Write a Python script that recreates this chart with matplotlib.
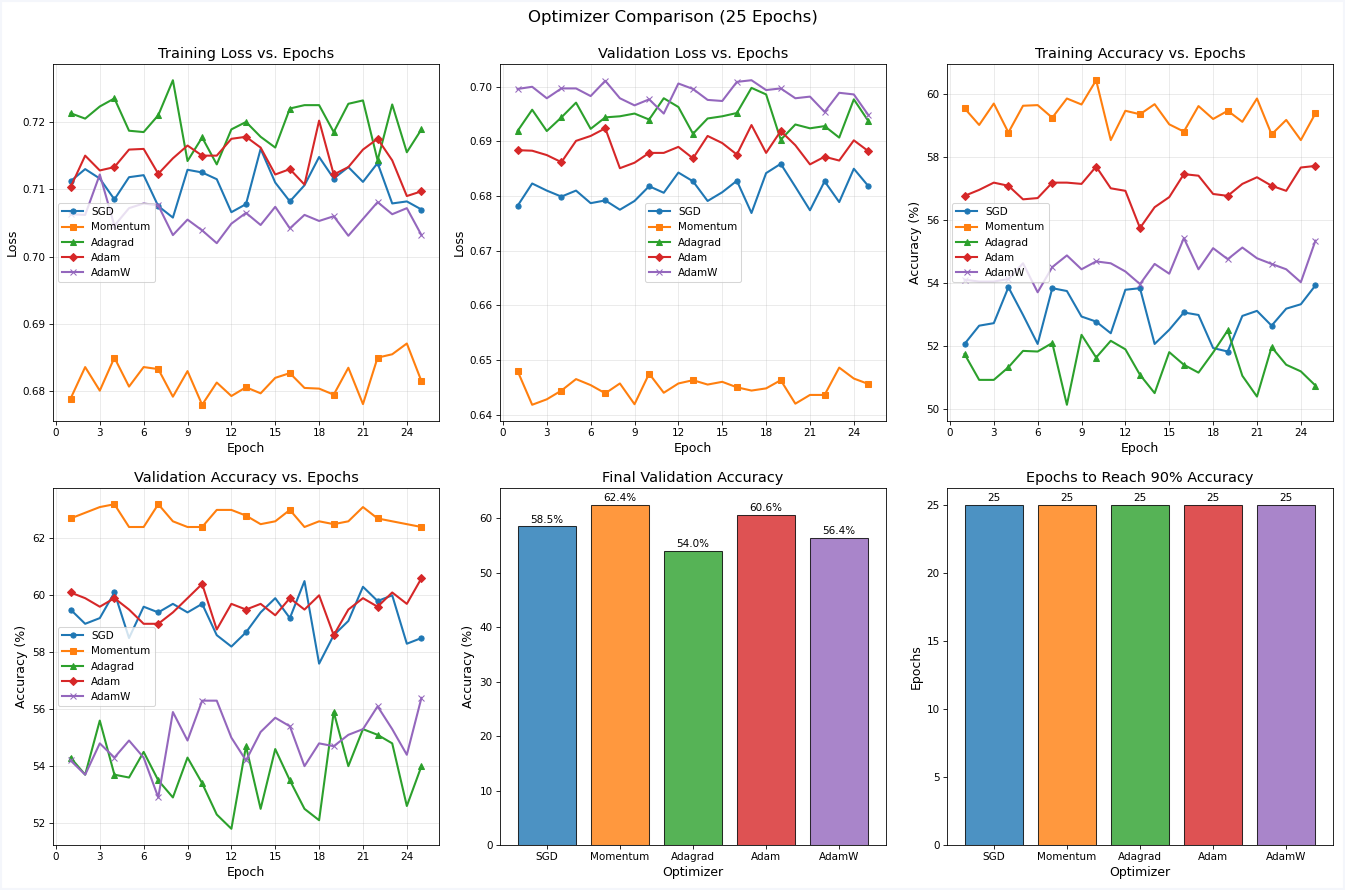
import matplotlib
matplotlib.use('Agg')
import matplotlib.pyplot as plt
from matplotlib.patches import Rectangle

# ---------------- data ----------------
epochs = list(range(1, 26))
optimizers = ['SGD', 'Momentum', 'Adagrad', 'Adam', 'AdamW']
markers = ['o', 's', '^', 'D', 'x']
colors = ['#1f77b4', '#ff7f0e', '#2ca02c', '#d62728', '#9467bd']

train_loss_sgd = [0.7112, 0.7130, 0.7116, 0.7085, 0.7118, 0.7121, 0.7075, 0.7058, 0.7129, 0.7125,
                  0.7115, 0.7066, 0.7078, 0.7160, 0.7110, 0.7082, 0.7106, 0.7148, 0.7116, 0.7133,
                  0.7111, 0.7139, 0.7079, 0.7082, 0.7070]
train_loss_momentum = [0.6789, 0.6836, 0.6801, 0.6850, 0.6807, 0.6836, 0.6833, 0.6792, 0.6830, 0.6780,
                       0.6813, 0.6793, 0.6806, 0.6797, 0.6820, 0.6827, 0.6805, 0.6804, 0.6795, 0.6835,
                       0.6781, 0.6850, 0.6855, 0.6871, 0.6815]
train_loss_adagrad = [0.7213, 0.7205, 0.7223, 0.7235, 0.7187, 0.7185, 0.7210, 0.7262, 0.7142, 0.7177,
                      0.7137, 0.7189, 0.7200, 0.7178, 0.7162, 0.7220, 0.7225, 0.7225, 0.7185, 0.7227,
                      0.7232, 0.7143, 0.7226, 0.7155, 0.7189]
train_loss_adam = [0.7103, 0.7150, 0.7128, 0.7133, 0.7159, 0.7160, 0.7123, 0.7146, 0.7165, 0.7150,
                   0.7150, 0.7175, 0.7178, 0.7162, 0.7122, 0.7130, 0.7107, 0.7202, 0.7122, 0.7133,
                   0.7159, 0.7175, 0.7143, 0.7090, 0.7097]
train_loss_adamw = [0.7063, 0.7062, 0.7122, 0.7046, 0.7072, 0.7079, 0.7076, 0.7032, 0.7055, 0.7039,
                    0.7020, 0.7049, 0.7065, 0.7047, 0.7074, 0.7042, 0.7062, 0.7053, 0.7060, 0.7031,
                    0.7056, 0.7081, 0.7063, 0.7072, 0.7032]

val_loss_sgd = [0.6782, 0.6823, 0.6810, 0.6799, 0.6810, 0.6787, 0.6792, 0.6775, 0.6791, 0.6818,
                0.6806, 0.6843, 0.6827, 0.6791, 0.6807, 0.6828, 0.6769, 0.6842, 0.6859, 0.6817,
                0.6774, 0.6827, 0.6789, 0.6850, 0.6818]
val_loss_momentum = [0.6480, 0.6418, 0.6428, 0.6444, 0.6465, 0.6454, 0.6439, 0.6457, 0.6419, 0.6475,
                     0.6440, 0.6457, 0.6463, 0.6455, 0.6460, 0.6450, 0.6444, 0.6448, 0.6463, 0.6420,
                     0.6436, 0.6436, 0.6486, 0.6466, 0.6456]
val_loss_adagrad = [0.6919, 0.6958, 0.6919, 0.6944, 0.6971, 0.6923, 0.6944, 0.6946, 0.6951, 0.6940,
                    0.6979, 0.6963, 0.6914, 0.6942, 0.6946, 0.6952, 0.6998, 0.6986, 0.6903, 0.6931,
                    0.6924, 0.6928, 0.6907, 0.6977, 0.6937]
val_loss_adam = [0.6884, 0.6883, 0.6875, 0.6862, 0.6901, 0.6910, 0.6924, 0.6851, 0.6861, 0.6879,
                 0.6879, 0.6890, 0.6869, 0.6910, 0.6897, 0.6876, 0.6930, 0.6879, 0.6919, 0.6893,
                 0.6858, 0.6872, 0.6865, 0.6902, 0.6882]
val_loss_adamw = [0.6996, 0.7000, 0.6979, 0.6997, 0.6997, 0.6983, 0.7011, 0.6979, 0.6966, 0.6977,
                  0.6951, 0.7006, 0.6996, 0.6976, 0.6974, 0.7009, 0.7012, 0.6994, 0.6997, 0.6979,
                  0.6982, 0.6954, 0.6989, 0.6986, 0.6948]

train_acc_sgd = [52.07, 52.65, 52.73, 53.87, 52.99, 52.07, 53.84, 53.75, 52.94, 52.78,
                 52.41, 53.79, 53.84, 52.07, 52.52, 53.07, 52.99, 51.94, 51.83, 52.96,
                 53.12, 52.65, 53.19, 53.33, 53.93]
train_acc_momentum = [59.55, 59.02, 59.70, 58.78, 59.63, 59.65, 59.25, 59.86, 59.67, 60.44,
                      58.54, 59.47, 59.36, 59.68, 59.04, 58.81, 59.62, 59.21, 59.47, 59.12,
                      59.86, 58.72, 59.18, 58.54, 59.39]
train_acc_adagrad = [51.75, 50.93, 50.93, 51.33, 51.85, 51.83, 52.10, 50.14, 52.36, 51.64,
                     52.17, 51.90, 51.09, 50.51, 51.81, 51.41, 51.16, 51.80, 52.50, 51.06,
                     50.40, 51.97, 51.41, 51.20, 50.75]
train_acc_adam = [56.77, 56.96, 57.19, 57.09, 56.66, 56.70, 57.19, 57.19, 57.15, 57.70,
                  57.01, 56.93, 55.75, 56.41, 56.73, 57.46, 57.41, 56.83, 56.77, 57.15,
                  57.36, 57.09, 56.93, 57.67, 57.72]
train_acc_adamw = [54.11, 54.05, 54.05, 54.13, 54.63, 53.71, 54.51, 54.88, 54.44, 54.69,
                   54.63, 54.37, 53.97, 54.61, 54.30, 55.43, 54.44, 55.11, 54.76, 55.13,
                   54.79, 54.61, 54.44, 54.03, 55.35]

val_acc_sgd = [59.5, 59.0, 59.2, 60.1, 58.5, 59.6, 59.4, 59.7, 59.4, 59.7,
               58.6, 58.2, 58.7, 59.4, 59.9, 59.2, 60.5, 57.6, 58.6, 59.1,
               60.3, 59.8, 60.0, 58.3, 58.5]
val_acc_momentum = [62.7, 62.9, 63.1, 63.2, 62.4, 62.4, 63.2, 62.6, 62.4, 62.4,
                    63.0, 63.0, 62.8, 62.5, 62.6, 63.0, 62.4, 62.6, 62.5, 62.6,
                    63.1, 62.7, 62.6, 62.5, 62.4]
val_acc_adagrad = [54.3, 53.7, 55.6, 53.7, 53.6, 54.5, 53.5, 52.9, 54.3, 53.4,
                   52.3, 51.8, 54.7, 52.5, 54.6, 53.5, 52.5, 52.1, 55.9, 54.0,
                   55.3, 55.1, 54.8, 52.6, 54.0]
val_acc_adam = [60.1, 59.9, 59.6, 59.9, 59.5, 59.0, 59.0, 59.4, 59.9, 60.4,
                58.8, 59.7, 59.5, 59.7, 59.3, 59.9, 59.5, 60.0, 58.6, 59.5,
                59.9, 59.6, 60.1, 59.7, 60.6]
val_acc_adamw = [54.2, 53.7, 54.8, 54.3, 54.9, 54.3, 52.9, 55.9, 54.9, 56.3,
                 56.3, 55.0, 54.2, 55.2, 55.7, 55.4, 54.0, 54.8, 54.7, 55.1,
                 55.3, 56.1, 55.3, 54.4, 56.4]

final_val_acc = [58.5, 62.4, 54.0, 60.6, 56.4]
epochs_to_90 = [25, 25, 25, 25, 25]
epoch_ticks = list(range(0, 25, 3))

train_loss = [train_loss_sgd, train_loss_momentum, train_loss_adagrad, train_loss_adam, train_loss_adamw]
val_loss = [val_loss_sgd, val_loss_momentum, val_loss_adagrad, val_loss_adam, val_loss_adamw]
train_acc = [train_acc_sgd, train_acc_momentum, train_acc_adagrad, train_acc_adam, train_acc_adamw]
val_acc = [val_acc_sgd, val_acc_momentum, val_acc_adagrad, val_acc_adam, val_acc_adamw]

# ---------------- figure ----------------
DPI = 1345 / 18 + 1e-6
W, H = 1345, 890
fig = plt.figure(figsize=(18, 18 * H / W), dpi=DPI, facecolor='white')


def ax_at(left, top, w=386, h=357):
    return fig.add_axes([left / W, 1 - (top + h) / H, w / W, h / H])


lefts = [53, 500, 947]
tops = [64, 488]

line_specs = [
    (ax_at(lefts[0], tops[0]), train_loss, 'Training Loss vs. Epochs', 'Loss', 'center left'),
    (ax_at(lefts[1], tops[0]), val_loss, 'Validation Loss vs. Epochs', 'Loss', 'center'),
    (ax_at(lefts[2], tops[0]), train_acc, 'Training Accuracy vs. Epochs', 'Accuracy (%)', 'center left'),
    (ax_at(lefts[0], tops[1]), val_acc, 'Validation Accuracy vs. Epochs', 'Accuracy (%)', 'center left'),
]

for ax, series, title, ylabel, loc in line_specs:
    for name, vals, m, c in zip(optimizers, series, markers, colors):
        ax.plot(epochs, vals, marker=m, markevery=3, markersize=5, linewidth=2,
                color=c, label=name)
    ax.set_title(title, fontsize=14)
    ax.set_xlabel('Epoch', fontsize=12)
    ax.set_ylabel(ylabel, fontsize=12)
    ax.set_xticks(epoch_ticks)
    ax.grid(True, alpha=0.3)
    ax.legend(loc=loc, fontsize=10)

# Final validation accuracy bars
ax5 = ax_at(lefts[1], tops[1])
bars = ax5.bar(optimizers, final_val_acc, color=colors, alpha=0.8, edgecolor='black', linewidth=1)
for b, v in zip(bars, final_val_acc):
    ax5.annotate(f'{v:.1f}%', (b.get_x() + b.get_width() / 2, v), xytext=(0, 1.5),
                 textcoords='offset points', ha='center', va='bottom', fontsize=10)
ax5.set_title('Final Validation Accuracy', fontsize=14)
ax5.set_xlabel('Optimizer', fontsize=12)
ax5.set_ylabel('Accuracy (%)', fontsize=12)

# Epochs to reach 90%
ax6 = ax_at(lefts[2], tops[1])
bars = ax6.bar(optimizers, epochs_to_90, color=colors, alpha=0.8, edgecolor='black', linewidth=1)
for b, v in zip(bars, epochs_to_90):
    ax6.annotate(f'{v}', (b.get_x() + b.get_width() / 2, v), xytext=(0, 1.5),
                 textcoords='offset points', ha='center', va='bottom', fontsize=10)
ax6.set_title('Epochs to Reach 90% Accuracy', fontsize=14)
ax6.set_xlabel('Optimizer', fontsize=12)
ax6.set_ylabel('Epochs', fontsize=12)

fig.suptitle('Optimizer Comparison (25 Epochs)', fontsize=16, y=0.989, va='top')

# light frame around the image edge
fig.patches.append(Rectangle((0, 0), 1, 1, transform=fig.transFigure, fill=False,
                             edgecolor='#f4f6fb', linewidth=4, zorder=10))

fig.savefig('out.png', dpi=DPI, facecolor='white')
